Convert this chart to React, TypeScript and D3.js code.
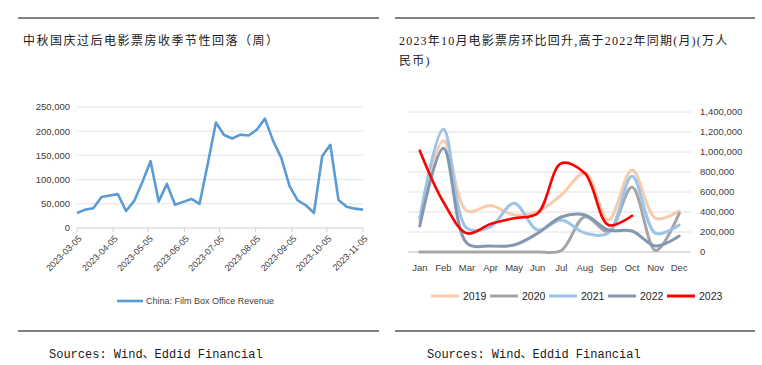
import React, { useEffect, useRef } from "react";
import * as d3 from "d3";

// weekly box office, 2023-03-05 .. 2023-11-05
const weekStart = "2023-03-05";
const weeklyRevenue = [
  31000, 38000, 41000, 64000, 67000, 70000, 35000, 56000, 95000, 138000,
  55000, 91000, 48000, 54000, 60000, 50000, 132000, 218000, 192000, 185000,
  193000, 191000, 203000, 226000, 180000, 145000, 87000, 57000, 47000, 31000,
  148000, 172000, 58000, 44000, 40000, 38000,
];
const dateTicks = [
  "2023-03-05", "2023-04-05", "2023-05-05", "2023-06-05", "2023-07-05",
  "2023-08-05", "2023-09-05", "2023-10-05", "2023-11-05",
];
const leftYTicks = [0, 50000, 100000, 150000, 200000, 250000];

// monthly box office (万人民币)
const months = ["Jan", "Feb", "Mar", "Apr", "May", "Jun", "Jul", "Aug", "Sep", "Oct", "Nov", "Dec"];
const years = ["2019", "2020", "2021", "2022", "2023"];
const yearColors = ["#f8cbad", "#a5a5a5", "#9dc3e6", "#8497b0", "#ff0000"];
const v2019 = [300000, 1113000, 410000, 465000, 370000, 403000, 570000, 790000, 320000, 820000, 337000, 410000];
const v2020 = [0, 0, 0, 0, 0, 0, 15000, 353000, 203000, 647000, 15000, 387000];
const v2021 = [340000, 1227000, 237000, 253000, 487000, 220000, 320000, 190000, 190000, 757000, 187000, 270000];
const v2022 = [260000, 1037000, 87000, 60000, 70000, 187000, 350000, 370000, 220000, 210000, 60000, 160000];
const v2023 = [1013000, 500000, 187000, 280000, 337000, 387000, 887000, 787000, 270000, 363000];
const rightYTicks = [0, 200000, 400000, 600000, 800000, 1000000, 1200000, 1400000];

const serifCJK = "'Liberation Serif', 'Noto Sans CJK SC', serif";
const axisFont = "'Liberation Sans', Arial, sans-serif";

const App = () => {
  const svgRef = useRef(null);

  useEffect(() => {
    const svg = d3.select(svgRef.current);
    svg.selectAll("*").remove();
    const fmt = d3.format(",");

    // ---------- frame / titles ----------
    [[18, 379], [395, 755]].forEach(([x1, x2]) => {
      svg.append("line").attr("x1", x1).attr("x2", x2).attr("y1", 18).attr("y2", 18)
        .attr("stroke", "#595959").attr("stroke-width", 1.5);
      svg.append("line").attr("x1", x1).attr("x2", x2).attr("y1", 331).attr("y2", 331)
        .attr("stroke", "#000").attr("stroke-width", 1);
    });

    svg.append("text").attr("x", 23).attr("y", 45)
      .style("font-family", serifCJK).style("font-size", "12px").style("letter-spacing", "1.5px")
      .attr("fill", "#1a1a1a").text("中秋国庆过后电影票房收季节性回落（周）");

    svg.append("text").attr("x", 399).attr("y", 45)
      .style("font-family", serifCJK).style("font-size", "12px").style("letter-spacing", "1.2px")
      .attr("fill", "#1a1a1a").text("2023年10月电影票房环比回升,高于2022年同期(月)(万人");
    svg.append("text").attr("x", 399).attr("y", 65)
      .style("font-family", serifCJK).style("font-size", "12px").style("letter-spacing", "1.2px")
      .attr("fill", "#1a1a1a").text("民币)");

    [49, 427].forEach((x) => {
      svg.append("text").attr("x", x).attr("y", 358)
        .style("font-family", "'Liberation Mono', 'Noto Sans CJK SC', monospace").style("font-size", "12px")
        .attr("fill", "#1a1a1a").text("Sources: Wind、Eddid Financial");
    });

    // ---------- left chart ----------
    const parse = d3.timeParse("%Y-%m-%d");
    const start = parse(weekStart);
    const weekly = weeklyRevenue.map((v, i) => ({ d: d3.timeDay.offset(start, i * 7), v }));
    const xL = d3.scaleTime().domain([parse(dateTicks[0]), parse(dateTicks[dateTicks.length - 1])]).range([77, 363]);
    const yL = d3.scaleLinear().domain([0, 250000]).range([228, 107]);

    const gL = svg.append("g");
    gL.selectAll(".grid").data(leftYTicks.filter((t) => t > 0)).join("line")
      .attr("x1", 77).attr("x2", 363).attr("y1", (d) => yL(d)).attr("y2", (d) => yL(d))
      .attr("stroke", "#e3e3e3").attr("stroke-width", 1);
    gL.selectAll(".ylab").data(leftYTicks).join("text")
      .attr("x", 70).attr("y", (d) => yL(d)).attr("dy", "0.35em").attr("text-anchor", "end")
      .style("font-family", axisFont).style("font-size", "9.5px").attr("fill", "#404040")
      .text((d) => fmt(d));
    gL.append("line").attr("x1", 77).attr("x2", 363).attr("y1", 228).attr("y2", 228)
      .attr("stroke", "#d0d0d0");
    const dts = dateTicks.map((s) => parse(s));
    gL.selectAll(".xt").data(dts).join("line")
      .attr("x1", (d) => xL(d)).attr("x2", (d) => xL(d)).attr("y1", 228).attr("y2", 232)
      .attr("stroke", "#d0d0d0");
    gL.selectAll(".xlab").data(dateTicks).join("text")
      .attr("transform", (d) => `translate(${xL(parse(d)) + 3},${237}) rotate(-45)`)
      .attr("text-anchor", "end").attr("dy", "0.35em")
      .style("font-family", axisFont).style("font-size", "9px").attr("fill", "#404040")
      .text((d) => d);

    gL.append("path").datum(weekly)
      .attr("d", d3.line().x((d) => xL(d.d)).y((d) => yL(d.v)))
      .attr("fill", "none").attr("stroke", "#5b9bd5").attr("stroke-width", 2.6)
      .attr("stroke-linejoin", "round");

    gL.append("line").attr("x1", 117).attr("x2", 143).attr("y1", 301).attr("y2", 301)
      .attr("stroke", "#5b9bd5").attr("stroke-width", 2.6);
    gL.append("text").attr("x", 146).attr("y", 301).attr("dy", "0.35em")
      .style("font-family", axisFont).style("font-size", "9px").attr("fill", "#404040")
      .text("China: Film Box Office Revenue");

    // ---------- right chart ----------
    const xR = d3.scaleBand().domain(months).range([408, 691]);
    const yR = d3.scaleLinear().domain([0, 1400000]).range([252, 112]);
    const gR = svg.append("g");
    gR.selectAll(".grid").data(rightYTicks).join("line")
      .attr("x1", 408).attr("x2", 691).attr("y1", (d) => yR(d)).attr("y2", (d) => yR(d))
      .attr("stroke", (d) => (d === 0 ? "#bfbfbf" : "#e0e0e0")).attr("stroke-width", 1);
    gR.selectAll(".ylab").data(rightYTicks).join("text")
      .attr("x", 700).attr("y", (d) => yR(d)).attr("dy", "0.35em")
      .style("font-family", axisFont).style("font-size", "9.5px").attr("fill", "#404040")
      .text((d) => fmt(d));
    gR.selectAll(".xlab").data(months).join("text")
      .attr("x", (d) => xR(d) + xR.bandwidth() / 2).attr("y", 268).attr("dy", "0.35em")
      .attr("text-anchor", "middle")
      .style("font-family", axisFont).style("font-size", "9.5px").attr("fill", "#404040")
      .text((d) => d);

    const series = [v2019, v2020, v2021, v2022, v2023];
    const line = d3.line<number>()
      .x((d, i) => xR(months[i]) + xR.bandwidth() / 2)
      .y((d) => yR(d))
      .curve(d3.curveCatmullRom.alpha(0.5));
    series.forEach((vals, i) => {
      gR.append("path").datum(vals).attr("d", line)
        .attr("fill", "none").attr("stroke", yearColors[i]).attr("stroke-width", i === 4 ? 2.6 : 3)
        .attr("stroke-linecap", "round");
    });

    const lx = d3.scalePoint().domain(years).range([431, 667]);
    years.forEach((y, i) => {
      const x0 = lx(y);
      gR.append("line").attr("x1", x0).attr("x2", x0 + 28).attr("y1", 296).attr("y2", 296)
        .attr("stroke", yearColors[i]).attr("stroke-width", 3);
      gR.append("text").attr("x", x0 + 32).attr("y", 296).attr("dy", "0.35em")
        .style("font-family", axisFont).style("font-size", "10.5px").attr("fill", "#262626")
        .text(y);
    });
  }, []);

  return (
    <div style={{ position: "absolute", left: 0, top: 0 }}>
      <svg ref={svgRef} width={762} height={365} style={{ display: "block", background: "#fff" }}></svg>
    </div>
  );
};

export default App;
